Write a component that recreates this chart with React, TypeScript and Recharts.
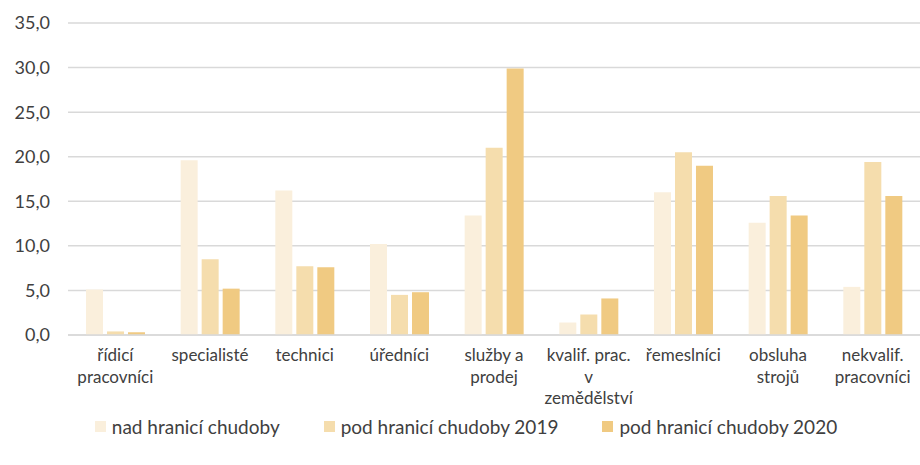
import { BarChart, Bar, XAxis, YAxis, CartesianGrid, Legend } from 'recharts'

const categories = [
  'řídicí\npracovníci',
  'specialisté',
  'technici',
  'úředníci',
  'služby a\nprodej',
  'kvalif. prac.\nv\nzemědělství',
  'řemeslníci',
  'obsluha\nstrojů',
  'nekvalif.\npracovníci',
]
const nadHranici = [5.1, 19.6, 16.2, 10.2, 13.4, 1.4, 16.0, 12.6, 5.4]
const podHranici2019 = [0.4, 8.5, 7.7, 4.5, 21.0, 2.3, 20.5, 15.6, 19.4]
const podHranici2020 = [0.3, 5.2, 7.6, 4.8, 29.9, 4.1, 19.0, 13.4, 15.6]
const yTicks = [0, 5, 10, 15, 20, 25, 30, 35]

const seriesNames = ['nad hranicí chudoby', 'pod hranicí chudoby 2019', 'pod hranicí chudoby 2020']
const colors = ['#FAEFDC', '#F5DDAD', '#F0CA82']

const data = categories.map((c, i) => ({
  name: c,
  a: nadHranici[i],
  b: podHranici2019[i],
  c: podHranici2020[i],
}))

const font = 'Lato, "Open Sans", sans-serif'

function CategoryTick({ x, y, payload }: any) {
  const lines = String(payload.value).split('\n')
  return (
    <text x={x} y={y + 18} textAnchor="middle" fill="#404040" fontSize={17} fontFamily={font}>
      {lines.map((l, i) => (
        <tspan key={i} x={x} dy={i === 0 ? 0 : 21.5}>
          {l}
        </tspan>
      ))}
    </text>
  )
}

function LegendBox() {
  return (
    <div style={{ display: 'flex', justifyContent: 'center', gap: 44, fontFamily: font, fontSize: 19, color: '#404040', marginLeft: 4 }}>
      {seriesNames.map((n, i) => (
        <div key={n} style={{ display: 'flex', alignItems: 'center' }}>
          <span style={{ width: 11, height: 11, background: colors[i], marginRight: 6, display: 'inline-block' }} />
          {n}
        </div>
      ))}
    </div>
  )
}

export default function App() {
  return (
    <div style={{ position: 'absolute', left: 0, top: 0, background: '#fff' }}>
      <BarChart
        width={920}
        height={465}
        data={data}
        margin={{ top: 23, right: 0, left: 8, bottom: 20 }}
        barCategoryGap="19%"
        barGap={4}
      >
        <CartesianGrid vertical={false} stroke="#D9D9D9" strokeWidth={1.5} />
        <XAxis
          dataKey="name"
          tick={<CategoryTick />}
          tickLine={false}
          axisLine={{ stroke: '#D9D9D9', strokeWidth: 1.5 }}
          interval={0}
          height={80}
        />
        <YAxis
          domain={[0, 35]}
          ticks={yTicks}
          tickFormatter={(v: number) => v.toFixed(1).replace('.', ',')}
          tick={{ fill: '#404040', fontSize: 18, fontFamily: font }}
          axisLine={false}
          tickLine={false}
          width={60}
          tickMargin={12}
        />
        <Legend verticalAlign="bottom" height={30} content={<LegendBox />} />
        <Bar dataKey="a" name={seriesNames[0]} fill={colors[0]} isAnimationActive={false} />
        <Bar dataKey="b" name={seriesNames[1]} fill={colors[1]} isAnimationActive={false} />
        <Bar dataKey="c" name={seriesNames[2]} fill={colors[2]} isAnimationActive={false} />
      </BarChart>
    </div>
  )
}
